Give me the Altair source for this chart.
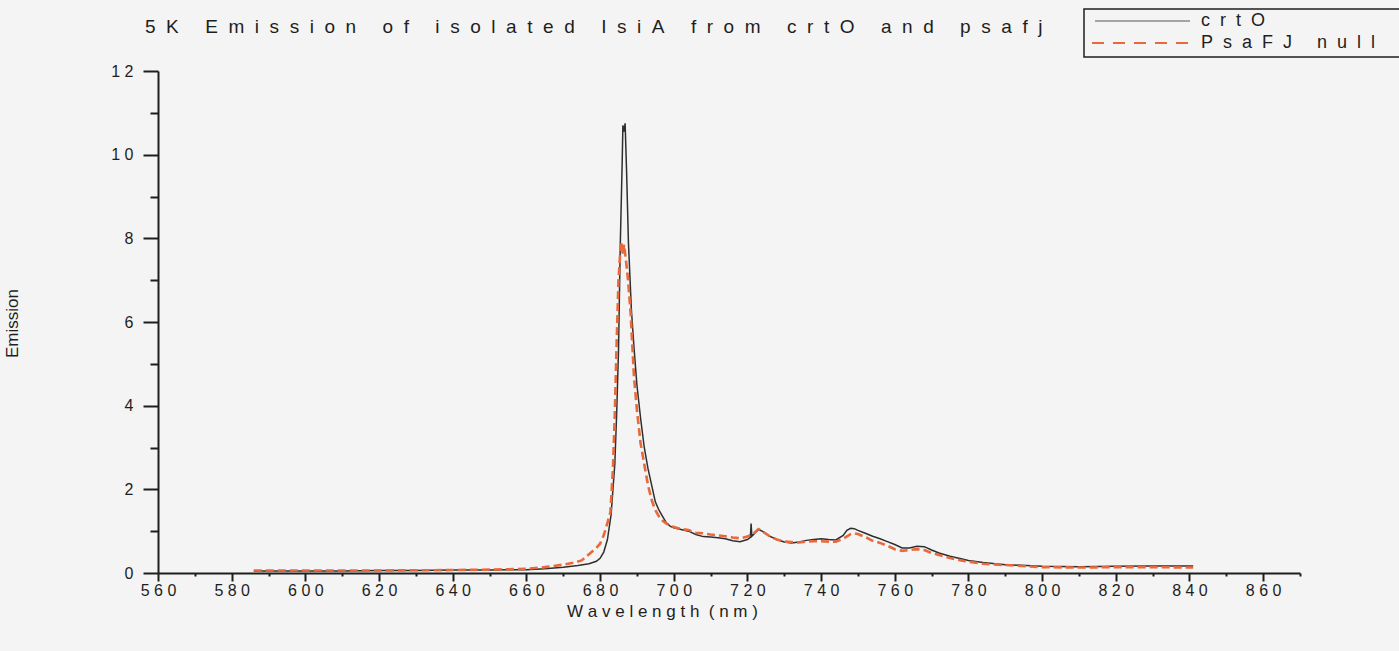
import altair as alt
import pandas as pd

# ---------------- data ----------------
crto_wl = [586, 590, 600, 610, 620, 630, 640, 650, 660, 665, 670, 674, 677, 679, 680, 681, 682, 683,
           684, 684.5, 685, 685.5, 686, 686.2, 686.5, 686.8, 687.2, 687.7, 688.5, 689.2, 690, 691, 692,
           693, 694, 695, 696, 697, 698, 699, 700, 702, 704, 706, 708, 710, 712, 714, 716, 718, 720,
           720.8, 721, 721.2, 722, 723, 724, 726, 728, 730, 732, 734, 736, 738, 740, 742, 744, 746, 747,
           748, 749, 750, 752, 754, 756, 758, 760, 762, 764, 766, 768, 770, 772, 775, 778, 780, 784,
           790, 800, 810, 820, 830, 841]
crto_em = [0.05, 0.05, 0.05, 0.05, 0.06, 0.06, 0.07, 0.07, 0.08, 0.10, 0.14, 0.18, 0.22, 0.28, 0.35,
           0.5, 0.8, 1.4, 2.6, 3.8, 5.3, 7.9, 9.8, 10.7, 10.55, 10.75, 9.6, 7.9, 6.3, 5.4, 4.5, 3.7, 3.0,
           2.5, 2.1, 1.7, 1.5, 1.35, 1.2, 1.12, 1.08, 1.04, 1.0, 0.92, 0.87, 0.86, 0.84, 0.82, 0.77,
           0.75, 0.8, 0.85, 1.18, 0.88, 0.95, 1.04, 1.0, 0.88, 0.8, 0.74, 0.72, 0.74, 0.78, 0.8, 0.82,
           0.8, 0.79, 0.9, 1.02, 1.07, 1.06, 1.02, 0.95, 0.88, 0.82, 0.75, 0.68, 0.6, 0.6, 0.64, 0.63,
           0.55, 0.48, 0.4, 0.34, 0.3, 0.25, 0.2, 0.16, 0.15, 0.16, 0.17, 0.17]

psafj_wl = [586, 590, 600, 620, 640, 650, 660, 665, 670, 673, 675, 677, 679, 680, 681, 682, 682.8,
            683.5, 684, 684.5, 685, 685.5, 685.9, 686.2, 686.5, 687, 687.6, 688.3, 689.2, 690, 691, 692,
            693, 694, 695, 696, 697, 698, 699, 700, 702, 704, 706, 708, 710, 712, 714, 716, 718, 720,
            722, 723, 724, 726, 728, 730, 732, 734, 736, 738, 740, 742, 744, 746, 748, 749, 750, 752,
            754, 756, 758, 760, 762, 764, 766, 768, 770, 772, 775, 778, 780, 784, 790, 800, 810, 820,
            830, 841]
psafj_em = [0.06, 0.06, 0.06, 0.06, 0.07, 0.08, 0.1, 0.14, 0.2, 0.25, 0.3, 0.45, 0.6, 0.7, 0.9, 1.2,
            1.45, 2.5, 3.8, 5.5, 7.0, 7.7, 7.9, 7.6, 7.85, 7.5, 7.0, 6.2, 4.7, 3.9, 3.1, 2.6, 2.1, 1.75,
            1.5, 1.35, 1.25, 1.18, 1.15, 1.1, 1.05, 1.03, 0.96, 0.95, 0.92, 0.9, 0.88, 0.85, 0.83, 0.87,
            0.97, 1.05, 1.0, 0.88, 0.8, 0.75, 0.74, 0.73, 0.75, 0.76, 0.76, 0.75, 0.75, 0.82, 0.93,
            0.95, 0.93, 0.86, 0.77, 0.72, 0.65, 0.57, 0.53, 0.55, 0.57, 0.55, 0.48, 0.43, 0.36, 0.3,
            0.27, 0.22, 0.19, 0.14, 0.13, 0.14, 0.14, 0.13]

x_major = list(range(560, 861, 20))
x_minor = list(range(570, 871, 20))
y_major = [0, 2, 4, 6, 8, 10, 12]
y_minor = [1, 3, 5, 7, 9, 11]

series_names = ["crtO", "PsaFJ null"]
title_text = "5K Emission of isolated IsiA from crtO and psafj"
x_title_text = "Wavelength (nm)"
y_title_text = "Emission"

# ---------------- styling helpers ----------------
FONT = "Liberation Sans"
BG = "#f4f4f4"
INK = "#1e1e1e"
ORANGE = "#e8693b"
DARK = "#2e2e2e"
NB = "\u00a0"


def spaced(text, lsep=NB * 2, wsep=NB * 5):
    return wsep.join(lsep.join(list(w)) for w in text.split(" "))


crto_df = pd.DataFrame({"wl": crto_wl, "em": crto_em})
psafj_df = pd.DataFrame({"wl": psafj_wl, "em": psafj_em})

xscale = alt.Scale(domain=[560, 870], nice=False, zero=False)
yscale = alt.Scale(domain=[0, 12], nice=False)

spaced_digits = "join(split(datum.label, ''), ' ')"

x_axis_main = alt.Axis(
    values=x_major, format="d", labelExpr=spaced_digits, grid=False,
    labelFlush=False, labelOverlap=False,
    domainColor=INK, domainWidth=2, tickColor=INK, tickWidth=2, tickSize=8,
    labelFont=FONT, labelFontSize=16, labelColor=INK, labelPadding=1,
    title=spaced(x_title_text, NB, NB * 2), titleFont=FONT, titleFontSize=17,
    titleFontWeight="normal", titleColor=INK, titleX=504, titleY=38,
    titleAlign="center", titleBaseline="middle", orient="bottom",
)
y_axis_main = alt.Axis(
    values=y_major, format="d", labelExpr=spaced_digits, grid=False,
    labelFlush=False, labelOverlap=False,
    domainColor=INK, domainWidth=2, tickColor=INK, tickWidth=2, tickSize=15,
    labelFont=FONT, labelFontSize=16, labelColor=INK, labelPadding=10,
    title=y_title_text, titleFont=FONT, titleFontSize=17, titleFontWeight="normal",
    titleColor=INK, titleX=-146, titleY=252, titleAngle=270,
    titleAlign="center", titleBaseline="middle", orient="left",
)
x_axis_minor = alt.Axis(
    values=x_minor, labels=False, domain=False, grid=False, title=None,
    tickColor=INK, tickWidth=2, tickSize=3, orient="bottom",
)
y_axis_minor = alt.Axis(
    values=y_minor, labels=False, domain=False, grid=False, title=None,
    tickColor=INK, tickWidth=2, tickSize=8, orient="left",
)

crto_line = alt.Chart(crto_df).mark_line(color=DARK, strokeWidth=1.5).encode(
    x=alt.X("wl:Q", scale=xscale, axis=x_axis_main),
    y=alt.Y("em:Q", scale=yscale, axis=y_axis_main),
)
minor_axes = alt.Chart(crto_df).mark_point(opacity=0).encode(
    x=alt.X("wl:Q", scale=xscale, axis=x_axis_minor),
    y=alt.Y("em:Q", scale=yscale, axis=y_axis_minor),
)
psafj_line = alt.Chart(psafj_df).mark_line(
    color=ORANGE, strokeWidth=2.6, strokeDash=[8, 4]
).encode(
    x=alt.X("wl:Q", scale=xscale, axis=None),
    y=alt.Y("em:Q", scale=yscale, axis=None),
)

one = alt.Data(values=[{"k": 1}])

title_mark = alt.Chart(one).mark_text(
    font=FONT, fontSize=19, color=INK, align="left", baseline="middle"
).encode(x=alt.value(-13), y=alt.value(-44), text=alt.value(spaced(title_text)))

legend_box = alt.Chart(one).mark_rect(fill=BG, stroke=INK, strokeWidth=1.5).encode(
    x=alt.value(926), x2=alt.value(1250), y=alt.value(-62), y2=alt.value(-14)
)
legend_line1 = alt.Chart(one).mark_rule(color="#555555", strokeWidth=1.2).encode(
    x=alt.value(937), x2=alt.value(1032), y=alt.value(-50)
)
legend_line2 = alt.Chart(one).mark_rule(color=ORANGE, strokeWidth=2, strokeDash=[12, 9]).encode(
    x=alt.value(934), x2=alt.value(1034), y=alt.value(-28)
)
legend_text1 = alt.Chart(one).mark_text(
    font=FONT, fontSize=18, color=INK, align="left", baseline="middle"
).encode(x=alt.value(1043), y=alt.value(-50), text=alt.value(spaced(series_names[0])))
legend_text2 = alt.Chart(one).mark_text(
    font=FONT, fontSize=18, color=INK, align="left", baseline="middle"
).encode(x=alt.value(1043), y=alt.value(-28), text=alt.value(spaced(series_names[1])))

chart = alt.layer(
    crto_line, minor_axes, psafj_line, title_mark,
    legend_box, legend_line1, legend_line2, legend_text1, legend_text2,
).resolve_axis(x="independent", y="independent").properties(
    width=1142, height=502,
    padding={"left": 158, "top": 71, "right": 99, "bottom": 78},
    autosize=alt.AutoSizeParams(type="none"),
    background=BG,
).configure_view(stroke=None)

chart.save("out.html", embed_options={"renderer": "svg", "actions": False})
